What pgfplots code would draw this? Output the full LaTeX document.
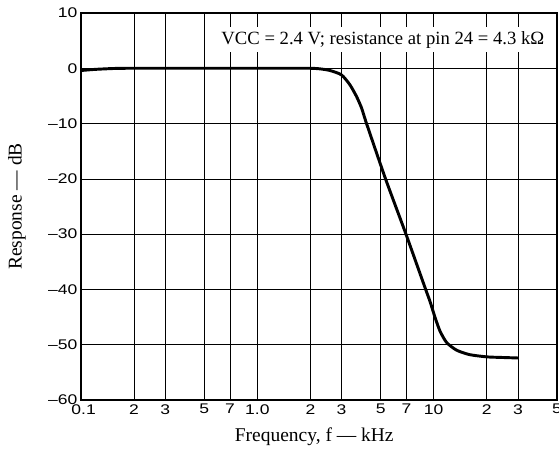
\documentclass[border=0pt]{standalone}
\usepackage{fontspec}
\setmainfont{Liberation Serif}
\setsansfont{Liberation Sans}
\newfontfamily\tickfont[FakeStretch=1.25]{Liberation Sans}
\usepackage{pgfplots}
\pgfplotsset{compat=1.18}
\begin{document}
\begin{tikzpicture}
\begin{axis}[
  name=ax, at={(0,0)}, anchor=south west,
  scale only axis, width=357pt, height=290.25pt,
  xmode=log, xmin=0.1, xmax=50, ymin=-60, ymax=10,
  xtick={0.1,0.2,0.3,0.5,0.7,1,2,3,5,7,10,20,30,50},
  xticklabels={\kern4pt0.1,2,3,5,7,1.0,2,3,5,7,10,2,3,5},
  ytick={-60,-50,-40,-30,-20,-10,0,10},
  yticklabels={\textendash60,\textendash50,\textendash40,\textendash30,\textendash20,\textendash10,0,10},
  minor xtick={}, minor ytick={},
  major tick length=0pt,
  grid=major, major grid style={black, line width=0.5pt},
  axis line style={line width=1.2pt},
  tick label style={font=\fontsize{10.5}{12}\selectfont\tickfont},
  xticklabel style={inner sep=1pt, yshift=-2pt},
  yticklabel style={inner sep=2.5pt},
  xlabel={Frequency, f --- kHz}, ylabel={Response --- dB},
  label style={font=\fontsize{14.6}{16}\selectfont},
  xlabel style={at={(axis description cs:0.49,-0.0956)}, anchor=center},
  ylabel style={at={(axis description cs:-0.1345,0.5)}, anchor=center},
]
\addplot[black, line width=2.2pt, smooth, tension=0.4] coordinates {
(0.1,-0.4) (0.12,-0.2) (0.15,-0.05) (0.18,0) (0.3,0) (0.6,0) (1.0,0) (1.5,0)
(2.0,0) (2.26,-0.1) (2.58,-0.4) (3.0,-1.2) (3.35,-3.0) (3.65,-5.1) (3.9,-7.2)
(4.16,-10) (5.33,-20) (6.96,-30) (9.0,-40) (9.51,-42.1) (10.16,-45.0) (10.84,-47.5)
(11.83,-49.6) (13.5,-51.0) (16,-51.8) (20,-52.2) (24,-52.3) (30,-52.4)
};
\node[fill=white, inner xsep=2pt, inner ysep=3pt, font=\fontsize{14}{16}\selectfont] at (axis cs:5.15,5.2) {VCC = 2.4 V; resistance at pin 24 = 4.3 kΩ};
\end{axis}
\pgfresetboundingbox
\path[use as bounding box] (-60.75pt,-39pt) rectangle (358.5pt,300pt);
\end{tikzpicture}
\end{document}
